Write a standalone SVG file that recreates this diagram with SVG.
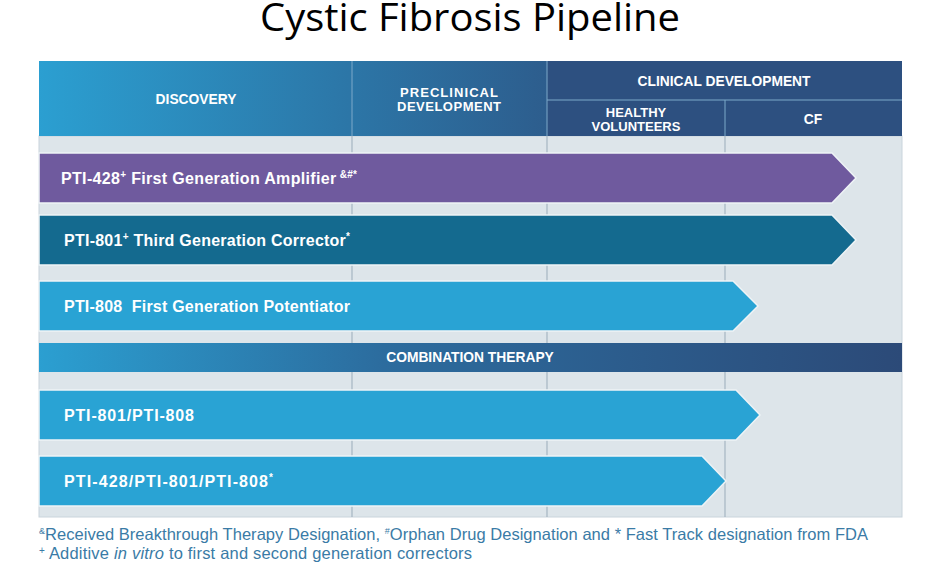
<svg xmlns="http://www.w3.org/2000/svg" width="928" height="583" viewBox="0 0 928 583">
<defs>
<linearGradient id="hg" x1="0" y1="0" x2="1" y2="0">
<stop offset="0" stop-color="#2b9fd1"/>
<stop offset="0.35" stop-color="#2c77a8"/>
<stop offset="0.6" stop-color="#2d5c8c"/>
<stop offset="1" stop-color="#2c4e7d"/>
</linearGradient>
<linearGradient id="cg" x1="0" y1="0" x2="1" y2="0">
<stop offset="0" stop-color="#2b9fd1"/>
<stop offset="0.4" stop-color="#2c6c9e"/>
<stop offset="1" stop-color="#2c4a78"/>
</linearGradient>
</defs>
<style>
.hd{font-family:"Liberation Sans",Arial,sans-serif;font-weight:bold;font-size:13.8px;fill:#fff;text-anchor:middle}
.hd2{font-family:"Liberation Sans",Arial,sans-serif;font-weight:bold;font-size:13px;fill:#fff;text-anchor:middle}
.lb{font-family:"Liberation Sans",Arial,sans-serif;font-weight:bold;font-size:16px;fill:#fff}
.sup{font-size:10px}
.fn{font-family:"Liberation Sans",Arial,sans-serif;font-size:16.5px;fill:#3a7ba6}
.div{stroke:#a6b5c1;stroke-width:1.2}
.hdiv{stroke:#7da9c9;stroke-width:1}
.bar{stroke:#eef3f6;stroke-width:1.5}
</style>
<rect width="928" height="583" fill="#fff"/>
<text x="470" y="31" font-family="'Open Sans',sans-serif" font-size="38" text-anchor="middle" fill="#000" textLength="420" lengthAdjust="spacingAndGlyphs">Cystic Fibrosis Pipeline</text>

<g id="chart-bg">
<rect x="39" y="136" width="863" height="381" fill="#dde5ea" stroke="#c9d4dc" stroke-width="1"/>
<line class="div" x1="352" y1="136" x2="352" y2="517"/>
<line class="div" x1="547" y1="136" x2="547" y2="517"/>
<line class="div" x1="725" y1="136" x2="725" y2="517"/>
</g>

<g id="header">
<rect x="39" y="61" width="863" height="75" fill="url(#hg)"/>
<rect x="547" y="61" width="355" height="75" fill="#2d5080"/>
<line class="hdiv" x1="352" y1="61" x2="352" y2="136"/>
<line class="hdiv" x1="547" y1="61" x2="547" y2="136"/>
<line class="hdiv" x1="547" y1="100" x2="902" y2="100"/>
<line class="hdiv" x1="725" y1="100" x2="725" y2="136"/>
<text class="hd" x="196" y="104">DISCOVERY</text>
<text class="hd2" x="449" y="97" textLength="98">PRECLINICAL</text>
<text class="hd2" x="449" y="110.5" textLength="104">DEVELOPMENT</text>
<text class="hd" x="724" y="86">CLINICAL DEVELOPMENT</text>
<text class="hd2" x="636" y="117">HEALTHY</text>
<text class="hd2" x="636" y="130.5">VOLUNTEERS</text>
<text class="hd" x="813" y="124">CF</text>
</g>

<g id="pti-428">
<polygon class="bar" points="39,153 832,153 856,178 832,203 39,203" fill="#6f5a9e"/>
<text class="lb" x="61" y="184" textLength="296">PTI-428<tspan class="sup" dy="-6">+</tspan><tspan dy="6"> First Generation Amplifier</tspan><tspan class="sup" dy="-6"> &amp;#*</tspan></text>
</g>

<g id="pti-801">
<polygon class="bar" points="39,215 832,215 856,240 832,265 39,265" fill="#146a8f"/>
<text class="lb" x="64" y="246" textLength="286">PTI-801<tspan class="sup" dy="-6">+</tspan><tspan dy="6"> Third Generation Corrector</tspan><tspan class="sup" dy="-6">*</tspan></text>
</g>

<g id="pti-808">
<polygon class="bar" points="39,281 733,281 758,306 733,331 39,331" fill="#29a3d4"/>
<text class="lb" x="64" y="312" xml:space="preserve" textLength="286">PTI-808  First Generation Potentiator</text>
</g>

<g id="combination">
<rect x="39" y="343" width="863" height="29" fill="url(#cg)"/>
<text class="hd" x="470" y="362">COMBINATION THERAPY</text>
</g>

<g id="pti-801-808">
<polygon class="bar" points="39,390 736,390 760,415 736,440 39,440" fill="#29a3d4"/>
<text class="lb" x="64" y="421" textLength="130">PTI-801/PTI-808</text>
</g>

<g id="pti-428-801-808">
<polygon class="bar" points="39,456 702,456 726,481 702,506 39,506" fill="#29a3d4"/>
<text class="lb" x="64" y="487" textLength="209">PTI-428/PTI-801/PTI-808<tspan class="sup" dy="-6">*</tspan></text>
</g>

<g id="footnotes">
<text class="fn" x="39" y="540" textLength="829"><tspan font-size="9" dy="-6">&amp;</tspan><tspan dy="6">Received Breakthrough Therapy Designation, </tspan><tspan font-size="9" dy="-6">#</tspan><tspan dy="6">Orphan Drug Designation and * Fast Track designation from FDA</tspan></text>
<text class="fn" x="39" y="559" textLength="433"><tspan font-size="10" dy="-5">+</tspan><tspan dy="5"> Additive </tspan><tspan font-style="italic">in vitro</tspan> to first and second generation correctors</text>
</g>
</svg>
